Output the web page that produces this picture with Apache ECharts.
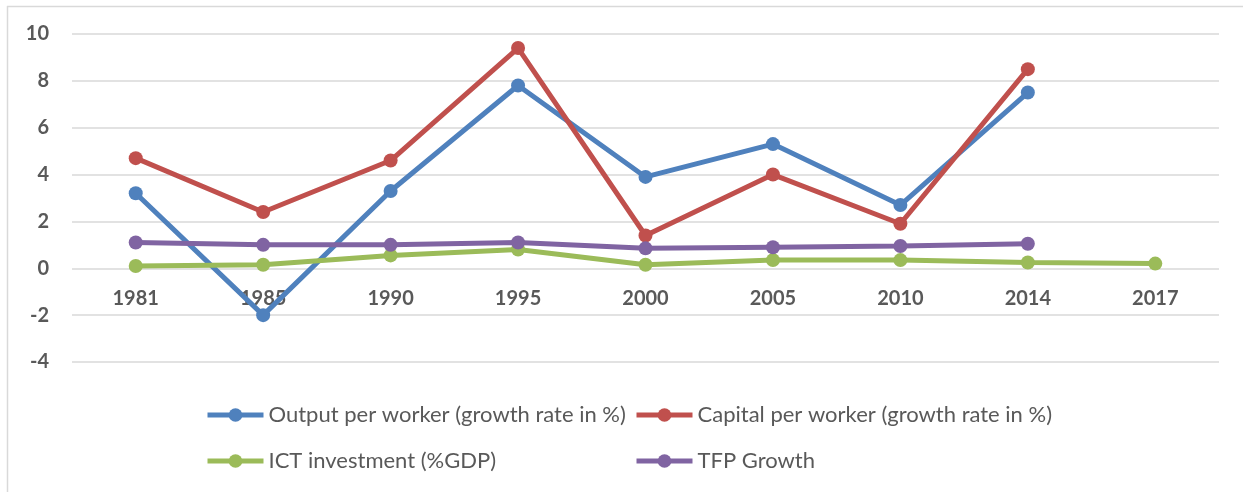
<!DOCTYPE html>
<html>
<head>
<meta charset="utf-8">
<script src="https://cdn.jsdelivr.net/npm/echarts@6/dist/echarts.min.js"></script>
<style>
html,body{margin:0;padding:0;background:#fff;}
#chart{width:1243px;height:492px;}
</style>
</head>
<body>
<div id="chart"></div>
<script>
const categories = ['1981','1985','1990','1995','2000','2005','2010','2014','2017'];
const outputPerWorker = [3.2, -2.0, 3.3, 7.8, 3.9, 5.3, 2.7, 7.5, null];
const capitalPerWorker = [4.7, 2.4, 4.6, 9.4, 1.4, 4.0, 1.9, 8.5, null];
const ictInvestment = [0.1, 0.15, 0.55, 0.8, 0.15, 0.35, 0.35, 0.25, 0.2];
const tfpGrowth = [1.1, 1.0, 1.0, 1.1, 0.85, 0.9, 0.95, 1.05, null];
const yTicks = {min: -4, max: 10, interval: 2};
const seriesNames = ['Output per worker (growth rate in %)', 'Capital per worker (growth rate in %)', 'ICT investment (%GDP)', 'TFP Growth'];
const colors = ['#4f81bd', '#c0504d', '#9bbb59', '#8064a2'];

const chart = echarts.init(document.getElementById('chart'), null, {renderer: 'canvas'});

const gridTop = 34, gridBottom = 130, chartH = 492;
const gridH = chartH - gridTop - gridBottom;
// place category axis at value 0 of the y scale
const zeroOffset = -gridH * (0 - yTicks.min) / (yTicks.max - yTicks.min);

function mkSeries(name, data, color) {
  return {
    name: name, type: 'line', data: data,
    symbol: 'circle', symbolSize: 14,
    itemStyle: {color: color},
    lineStyle: {color: color, width: 5},
    connectNulls: false,
    animation: false
  };
}

const legendCommon = {
  orient: 'vertical',
  padding: 0,
  itemWidth: 56, itemHeight: 17,
  itemGap: 22,
  lineStyle: {width: 5},
  textStyle: {fontFamily: 'Lato', fontSize: 22, color: '#595959', lineHeight: 24}
};

chart.setOption({
  animation: false,
  color: colors,
  grid: {left: 72, right: 24, top: gridTop, bottom: gridBottom, containLabel: false},
  xAxis: {
    type: 'category', data: categories, boundaryGap: true,
    position: 'bottom', offset: zeroOffset,
    axisLine: {show: false, onZero: false},
    axisTick: {show: false},
    axisLabel: {margin: 20, fontFamily: 'Lato', fontWeight: 'bold', fontSize: 20, color: '#595959'}
  },
  yAxis: {
    type: 'value', min: yTicks.min, max: yTicks.max, interval: yTicks.interval,
    axisLine: {show: false}, axisTick: {show: false},
    axisLabel: {margin: 23, fontFamily: 'Lato', fontWeight: 'bold', fontSize: 20, color: '#595959'},
    splitLine: {lineStyle: {color: '#d9d9d9', width: 1.5}}
  },
  legend: [
    Object.assign({}, legendCommon, {left: 205, top: 403, data: [seriesNames[0], seriesNames[2]]}),
    Object.assign({}, legendCommon, {left: 634, top: 403, data: [seriesNames[1], seriesNames[3]]})
  ],
  graphic: [
    {type: 'line', shape: {x1: 7.5, y1: 6, x2: 7.5, y2: 492}, style: {stroke: '#d9d9d9', lineWidth: 1.5}},
    {type: 'line', shape: {x1: 7, y1: 6.5, x2: 1243, y2: 6.5}, style: {stroke: '#d9d9d9', lineWidth: 1.5}}
  ],
  series: [
    mkSeries(seriesNames[0], outputPerWorker, colors[0]),
    mkSeries(seriesNames[1], capitalPerWorker, colors[1]),
    mkSeries(seriesNames[2], ictInvestment, colors[2]),
    mkSeries(seriesNames[3], tfpGrowth, colors[3])
  ]
});
</script>
</body>
</html>
